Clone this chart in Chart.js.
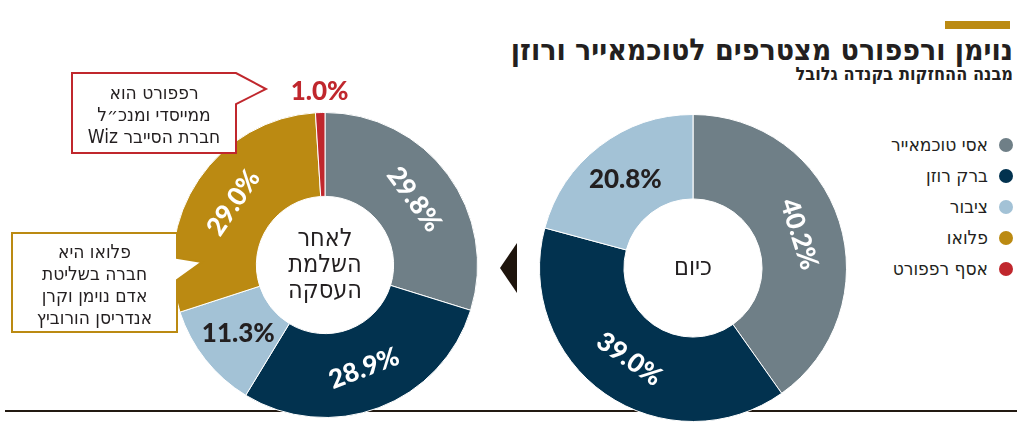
<!DOCTYPE html>
<html lang="he">
<head>
<meta charset="utf-8">
<script src="https://cdn.jsdelivr.net/npm/chart.js@4.4.1/dist/chart.umd.min.js"></script>
<style>
  html, body { margin: 0; padding: 0; background: #fff; }
  body { width: 1024px; height: 433px; position: relative; overflow: hidden; font-family: 'DejaVu Sans Condensed', 'DejaVu Sans', sans-serif; color: #231f20; }
  .abs { position: absolute; }
  #goldbar { left: 945px; top: 21px; width: 65px; height: 8px; background: #bb8a12; }
  #title { right: 11px; top: 30px; font-size: 30px; font-weight: bold; direction: rtl; white-space: nowrap; line-height: 40px; }
  #subtitle { right: 11px; top: 63px; font-size: 18px; font-weight: bold; direction: rtl; white-space: nowrap; line-height: 22px; }
  #baseline { left: 5px; top: 410px; width: 1012px; height: 2px; background: #231a12; }
  #legend { right: 11px; top: 129px; direction: rtl; }
  #legend div { height: 31px; line-height: 31px; font-size: 19px; white-space: nowrap; }
  #legend span.dot { display: inline-block; width: 14px; height: 14px; border-radius: 50%; margin-left: 11px; vertical-align: -1px; }
  #arrow { left: 500px; top: 243px; width: 0; height: 0; border-top: 25px solid transparent; border-bottom: 25px solid transparent; border-right: 17px solid #1e140c; }
  canvas { position: absolute; }
  #notes { left: 0; top: 0; }
  .note { position: absolute; direction: rtl; text-align: center; font-size: 19px; line-height: 22px; white-space: nowrap; }
</style>
</head>
<body>
<div id="baseline" class="abs"></div>
<div id="goldbar" class="abs"></div>
<div id="title" class="abs">נוימן ורפפורט מצטרפים לטוכמאייר ורוזן</div>
<div id="subtitle" class="abs">מבנה ההחזקות בקנדה גלובל</div>
<div id="legend" class="abs"></div>
<div id="arrow" class="abs"></div>

<canvas id="chart-after" width="400" height="400" style="left:125px;top:65px"></canvas>
<canvas id="chart-today" width="400" height="400" style="left:493px;top:68px"></canvas>

<svg id="notes" class="abs" width="1024" height="433">
  <path d="M72,73 H236 L266,89 L236,104 V153 H72 Z" fill="#fff" stroke="#c0272d" stroke-width="2"/>
  <path d="M12,233 H177 V258 L202,262 L177,280 V332 H12 Z" fill="#fff" stroke="#bb8a12" stroke-width="2"/>
</svg>
<div class="note" style="left:72px;width:164px;top:81px">רפפורט הוא<br>ממייסדי ומנכ״ל<br>חברת הסייבר Wiz</div>
<div class="note" style="left:12px;width:165px;top:240px">פלואו היא<br>חברה בשליטת<br>אדם נוימן וקרן<br>אנדריסן הורוביץ</div>

<script>
// holders, in drawing order (clockwise from 12 o'clock)
var holders = ['אסי טוכמאייר', 'ברק רוזן', 'ציבור', 'פלואו', 'אסף רפפורט'];
var holderColors = ['#6f7f87', '#02324f', '#a3c2d6', '#bb8a12', '#c0272d'];

// today: only the first three holders
var todayValues = [40.2, 39.0, 20.8];
// after the deal
var afterValues = [29.8, 28.9, 11.3, 29.0, 1.0];

var todayCenter = ['כיום'];
var afterCenter = ['לאחר', 'השלמת', 'העסקה'];

// legend
var legendBox = document.getElementById('legend');
holders.forEach(function (name, i) {
    var row = document.createElement('div');
    row.innerHTML = '<span class="dot" style="background:' + holderColors[i] + '"></span>' + name;
    legendBox.appendChild(row);
});

// percent labels on the slices
var sliceLabels = {
    id: 'sliceLabels',
    afterDatasetsDraw: function (chart) {
        var ctx = chart.ctx;
        var meta = chart.getDatasetMeta(0);
        var values = chart.data.datasets[0].data;
        meta.data.forEach(function (arc, i) {
            var p = arc.getProps(['x', 'y', 'startAngle', 'endAngle', 'innerRadius', 'outerRadius']);
            var mid = (p.startAngle + p.endAngle) / 2;
            var text = values[i].toFixed(1) + '%';
            var small = values[i] < 5;
            var r = small ? p.outerRadius + 21 : (p.innerRadius + p.outerRadius) / 2;
            var x = p.x + Math.cos(mid) * r;
            var y = p.y + Math.sin(mid) * r;
            var col = holderColors[i];
            var color = small ? col : (col == '#a3c2d6' ? '#231f20' : '#ffffff');
            var rot = 0;
            if (color == '#ffffff') {
                rot = mid + Math.PI / 2;
                while (rot > Math.PI / 2) rot -= Math.PI;
                while (rot < -Math.PI / 2) rot += Math.PI;
            }
            ctx.save();
            ctx.translate(x, y);
            ctx.rotate(rot);
            ctx.font = '900 26px Lato, "Open Sans", sans-serif';
            ctx.fillStyle = color;
            ctx.textAlign = 'center';
            ctx.textBaseline = 'middle';
            ctx.fillText(text, 0, 0);
            ctx.restore();
        });
    }
};

// text in the hole
var centerText = {
    id: 'centerText',
    afterDatasetsDraw: function (chart, args, opts) {
        var ctx = chart.ctx;
        var arc = chart.getDatasetMeta(0).data[0];
        var lines = opts.lines || [];
        var lh = 26;
        ctx.save();
        ctx.font = '25px "DejaVu Sans Condensed", "DejaVu Sans", sans-serif';
        ctx.fillStyle = '#231f20';
        ctx.textAlign = 'center';
        ctx.textBaseline = 'middle';
        ctx.direction = 'rtl';
        var y0 = arc.y - (lines.length - 1) * lh / 2;
        lines.forEach(function (l, i) {
            ctx.fillText(l, arc.x, y0 + i * lh);
        });
        ctx.restore();
    }
};

function makeDoughnut(id, values, center, pad) {
    return new Chart(document.getElementById(id).getContext('2d'), {
        type: 'doughnut',
        data: {
            labels: holders.slice(0, values.length),
            datasets: [{
                data: values,
                backgroundColor: holderColors.slice(0, values.length),
                borderColor: '#ffffff',
                borderWidth: 1
            }]
        },
        options: {
            responsive: false,
            animation: false,
            cutout: '45%',
            layout: { padding: pad },
            plugins: {
                legend: { display: false },
                tooltip: { enabled: false },
                centerText: { lines: center }
            }
        },
        plugins: [sliceLabels, centerText]
    });
}

var chartAfter = makeDoughnut('chart-after', afterValues, afterCenter, 47);
var chartToday = makeDoughnut('chart-today', todayValues, todayCenter, 46);
</script>
</body>
</html>
